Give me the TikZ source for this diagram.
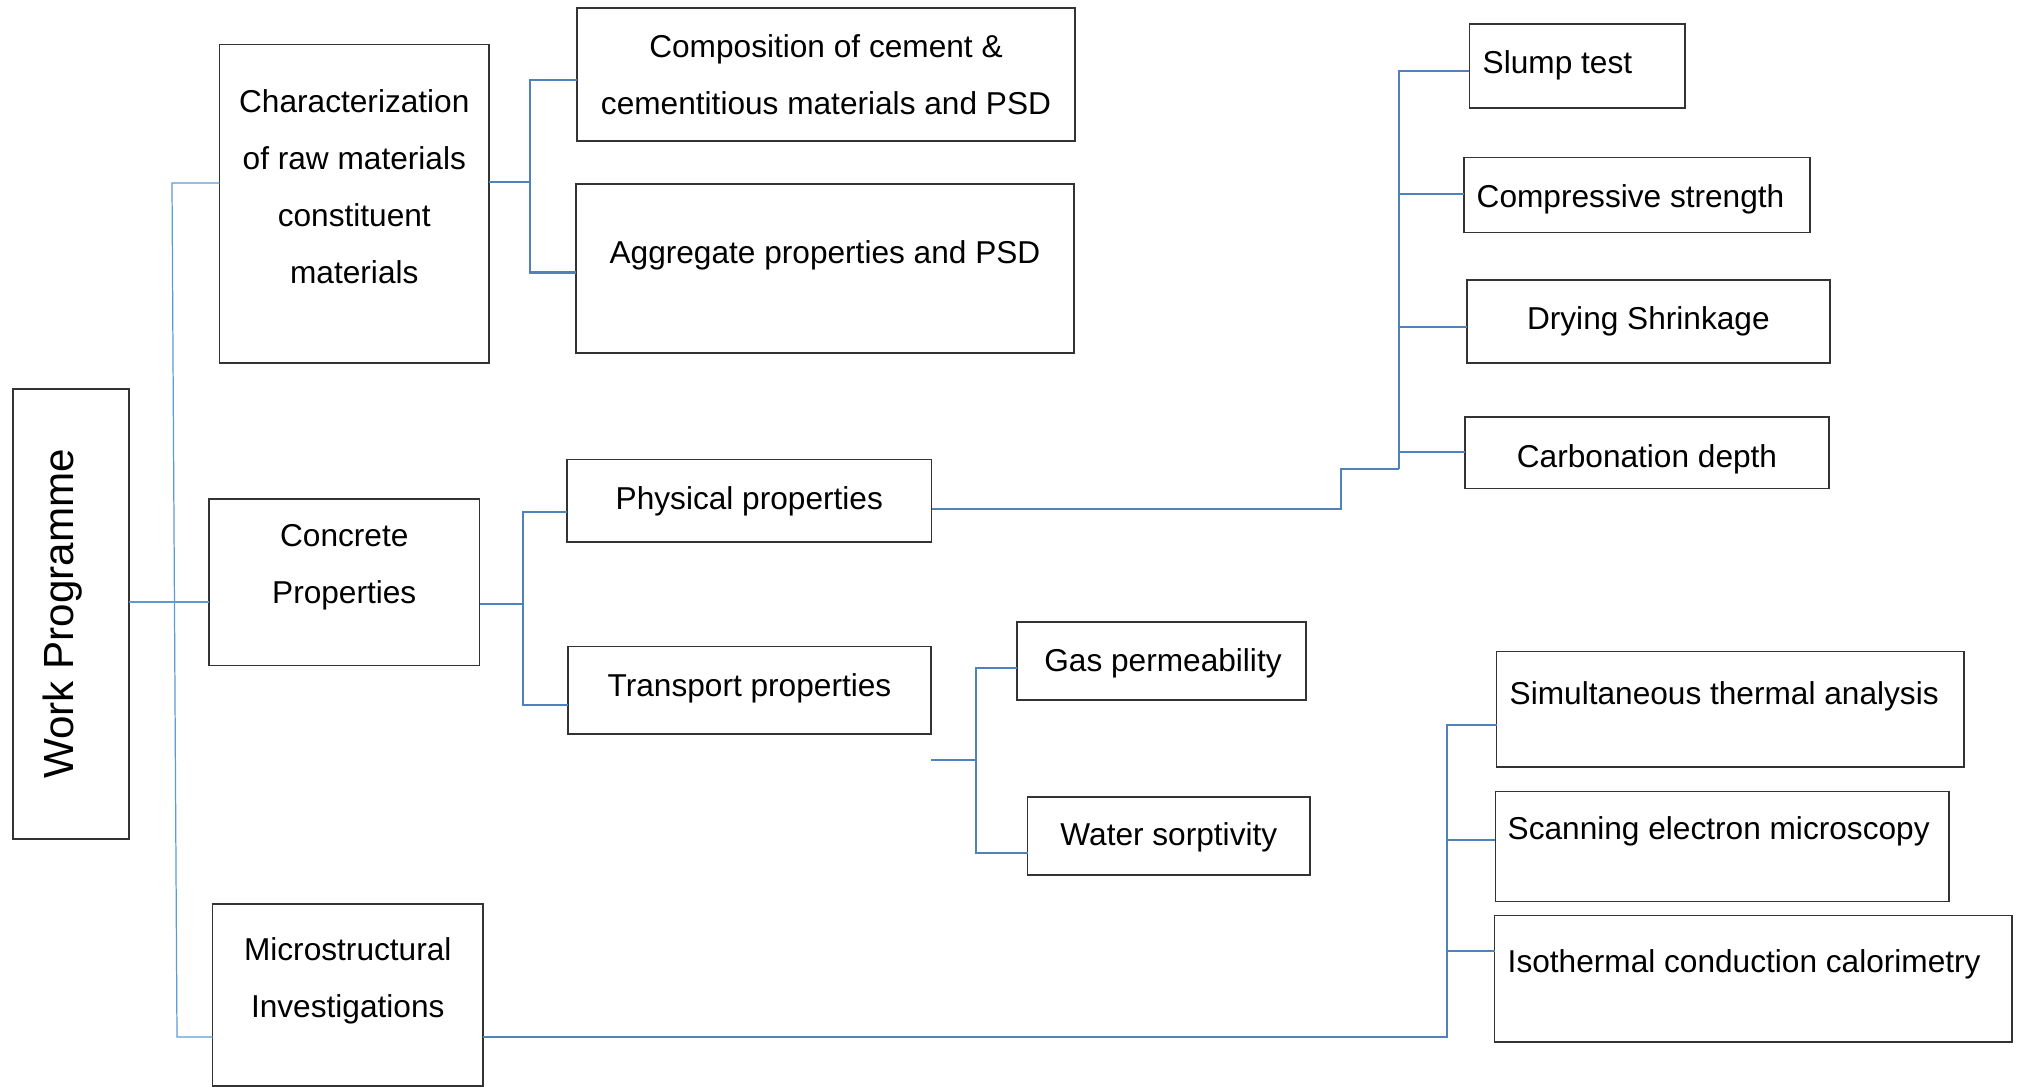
\documentclass[tikz,border=0pt]{standalone}
\usepackage{fontspec}
\setmainfont{Liberation Sans}
\usepackage{tikz}
\usetikzlibrary{fit}
\definecolor{linkblue}{RGB}{79,129,189}
\definecolor{trunkblue}{RGB}{91,155,213}
\tikzset{
    box/.style={rectangle, draw=black!80, line width=0.45pt, inner sep=0pt, outer sep=0pt},
    txt/.style={font=\fontsize{9pt}{16.2pt}\selectfont, align=center, inner sep=0pt},
    bigtxt/.style={txt, font=\fontsize{12pt}{14pt}\selectfont},
    link/.style={line width=0.6pt, color=linkblue},
    trunk/.style={line width=0.35pt, color=trunkblue}
}
\begin{document}
\begin{tikzpicture}[x=0.1mm, y=-0.1mm]
    \useasboundingbox (0,0) rectangle (2018,1087);

    % first level
    \node (wp) [box, line width=0.6pt, fit={(12.7,389.3) (129.3,838.7)}, label={[bigtxt, xshift=-0.8mm, rotate=90]center:Work Programme}] {};
    \node (char) [box, fit={(219.6,44.6) (489,363)}, label={[txt, yshift=1.74mm]center:Characterization\\of raw materials\\constituent\\materials}] {};
    \node (conc) [box, fit={(209,499) (479.5,665.5)}, label={[txt, yshift=1.5mm]center:Concrete\\Properties}] {};
    \node (mic) [box, fit={(212.5,904) (483,1086)}, label={[txt, yshift=1.43mm]center:Microstructural\\Investigations}] {};

    % second level
    \node (comp) [box, fit={(577,8) (1075,141)}, label={[txt]center:Composition of cement \&\\cementitious materials and PSD}] {};
    \node (aggr) [box, fit={(576,184) (1074,353)}, label={[txt, yshift=1.29mm]center:Aggregate properties and PSD}] {};
    \node (phys) [box, fit={(567,459.6) (931.6,541.8)}, label={[txt, yshift=-0.03mm]center:Physical properties}] {};
    \node (trans) [box, fit={(568,646.7) (931,734)}, label={[txt, yshift=0.23mm]center:Transport properties}] {};

    % third level
    \node (slump) [box, fit={(1469.4,24) (1685,108)}, label={[txt, anchor=base west, xshift=1.26mm, yshift=-0.7mm]west:Slump test}] {};
    \node (comps) [box, fit={(1464,157.5) (1810,232.5)}, label={[txt, anchor=base west, xshift=1.2mm, yshift=-1.2mm]west:Compressive strength}] {};
    \node (dry) [box, fit={(1466.7,280) (1830,363)}, label={[txt, yshift=0.05mm]center:Drying Shrinkage}] {};
    \node (carb) [box, fit={(1465,417) (1829,488.5)}, label={[txt, yshift=-0.63mm]center:Carbonation depth}] {};
    \node (gas) [box, fit={(1017,621.8) (1306,700)}, label={[txt, xshift=0.15mm, yshift=-0.21mm]center:Gas permeability}] {};
    \node (water) [box, fit={(1027.7,797) (1310,875)}, label={[txt, yshift=-0.17mm]center:Water sorptivity}] {};
    \node (sta) [box, fit={(1496.6,651.6) (1963.7,767.2)}, label={[txt, anchor=base west, xshift=1.24mm, yshift=0.47mm]west:Simultaneous thermal analysis}] {};
    \node (sem) [box, fit={(1495.4,791.4) (1948.7,901.4)}, label={[txt, anchor=base west, xshift=1.16mm, yshift=0.71mm]west:Scanning electron microscopy}] {};
    \node (icc) [box, fit={(1494.6,915.3) (2012,1042)}, label={[txt, anchor=base west, xshift=1.24mm, yshift=0.65mm]west:Isothermal conduction calorimetry}] {};

    % left trunk
    \coordinate (tc) at (172,183);
    \coordinate (tm) at (177,1037);
    \coordinate (tw) at (174.5,602);
    \draw [trunk] (char.west |- tc) -- (tc) -- (tm) -- (mic.west |- tm);
    \draw [trunk] (wp.east |- tw) -- (conc.west |- tw);

    % raw materials
    \coordinate (cb) at (530,182);
    \coordinate (c1) at (530,80);
    \coordinate (c2) at (530,272.5);
    \draw [link] (char.east |- cb) -- (cb);
    \draw [link] (comp.west |- c1) -- (c1) -- (c2) -- (aggr.west |- c2);

    % concrete properties
    \coordinate (kb) at (523.3,604);
    \coordinate (k1) at (523.3,512);
    \coordinate (k2) at (523.3,705.3);
    \draw [link] (conc.east |- kb) -- (kb);
    \draw [link] (phys.west |- k1) -- (k1) -- (k2) -- (trans.west |- k2);

    % physical tests
    \coordinate (p1) at (1341,509);
    \coordinate (p2) at (1399,469);
    \coordinate (s1) at (1399,71);
    \coordinate (s2) at (1399,194);
    \coordinate (s3) at (1399,327);
    \coordinate (s4) at (1399,452);
    \draw [link] (phys.east |- p1) -- (p1) |- (p2);
    \draw [link] (slump.west |- s1) -- (s1) -- (p2);
    \draw [link] (s2) -- (comps.west |- s2);
    \draw [link] (s3) -- (dry.west |- s3);
    \draw [link] (s4) -- (carb.west |- s4);

    % transport tests
    \coordinate (g0) at (976,760);
    \coordinate (g1) at (976,667.6);
    \coordinate (g2) at (976,853.4);
    \draw [link] (trans.east |- g0) -- (g0);
    \draw [link] (gas.west |- g1) -- (g1) -- (g2) -- (water.west |- g2);

    % microstructure tests
    \coordinate (m0) at (1447,1037);
    \coordinate (m1) at (1447,725);
    \coordinate (m2) at (1447,840);
    \coordinate (m3) at (1447,950.6);
    \draw [link] (mic.east |- m0) -- (m0) -- (m1) -- (sta.west |- m1);
    \draw [link] (m2) -- (sem.west |- m2);
    \draw [link] (m3) -- (icc.west |- m3);
\end{tikzpicture}
\end{document}
